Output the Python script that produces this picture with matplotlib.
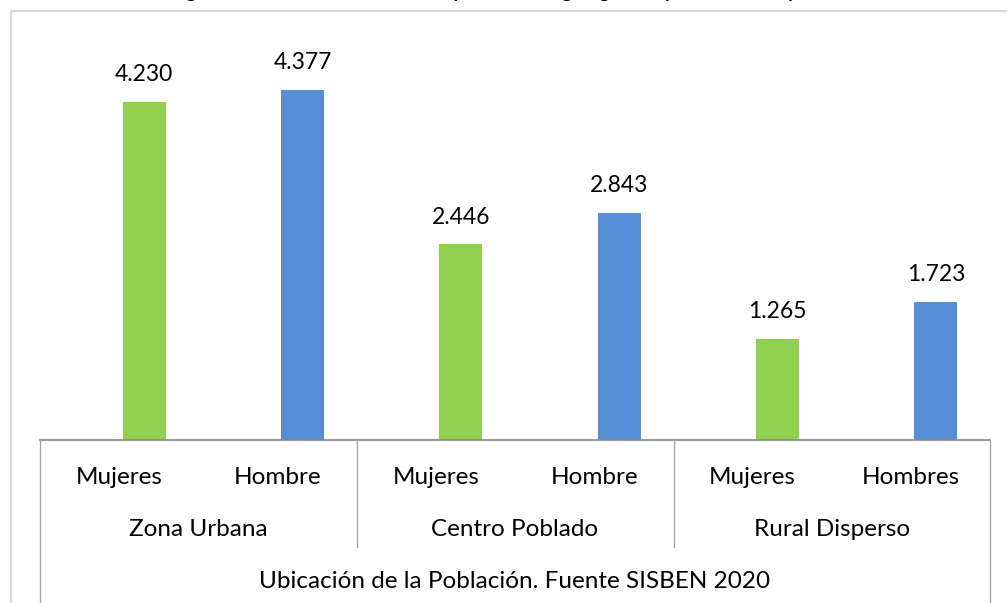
import matplotlib
matplotlib.use("Agg")
import matplotlib.pyplot as plt
from matplotlib.lines import Line2D
import numpy as np

# Data
groups = ["Zona Urbana", "Centro Poblado", "Rural Disperso"]
sexes = ["Mujeres", "Hombre", "Mujeres", "Hombre", "Mujeres", "Hombres"]
values = [4230, 4377, 2446, 2843, 1265, 1723]
bar_colors = ["#92D050", "#558ED5", "#92D050", "#558ED5", "#92D050", "#558ED5"]
axis_title = "Ubicación de la Población. Fuente SISBEN 2020"
chart_title = "Figura 5. Distribución total de la población según género por ubicación y zona"

plt.rcParams['font.family'] = ['Lato', 'DejaVu Sans']

W, H = 1007, 603
fig = plt.figure(figsize=(W / 100, H / 100), dpi=100)

# plot area in pixels: x 40..990, baseline at y=440, top at y=40
left, right, base, top = 40, 990, 440, 40
ax = fig.add_axes([left / W, (H - base) / H, (right - left) / W, (base - top) / H])

x = np.arange(len(values))
offset = 0.158
ax.bar(x + offset, values, width=0.27, color=bar_colors, zorder=2)
for xi, v in zip(x, values):
    ax.annotate(f"{v / 1000:.3f}", (xi + offset, v), xytext=(0, 12),
                textcoords="offset points", ha="center", va="bottom",
                fontsize=16.5, color="#000000")

ax.set_xlim(-0.5, 5.5)
ax.set_ylim(0, 5000)
ax.set_xticks([])
ax.set_yticks([])
for s in ax.spines.values():
    s.set_visible(False)

# pixel helpers for the category table below the axis
def fx(px):
    return px / W

def fy(py):
    return 1 - py / H

line_col = "#A6A6A6"
fig.add_artist(Line2D([fx(left), fx(right)], [fy(base), fy(base)], color="#868686", lw=1.2))
for px in [357, 674]:
    fig.add_artist(Line2D([fx(px), fx(px)], [fy(base), fy(547)], color=line_col, lw=1))
for px in [left, right]:
    fig.add_artist(Line2D([fx(px), fx(px)], [fy(base), fy(H)], color=line_col, lw=1))

slot = (right - left) / len(sexes)
for i, lab in enumerate(sexes):
    fig.text(fx(left + slot * (i + 0.5)), fy(478), lab, ha="center", va="center", fontsize=17.5)
for j, g in enumerate(groups):
    fig.text(fx(left + slot * (2 * j + 1)), fy(530), g, ha="center", va="center", fontsize=17.5)
fig.text(fx((left + right) / 2), fy(582), axis_title, ha="center", va="center", fontsize=17.5)

# outer chart border (only top and left visible in the crop)
fig.add_artist(Line2D([fx(11), fx(11), fx(W)], [fy(H), fy(11), fy(11)], color="#D9D9D9", lw=1.5))

# title, mostly cropped away at the top edge as in the reference
fig.text(fx(507), fy(-2), chart_title, ha="center", va="baseline",
         fontsize=14, fontweight="bold")

fig.savefig("out.png", dpi=100)
